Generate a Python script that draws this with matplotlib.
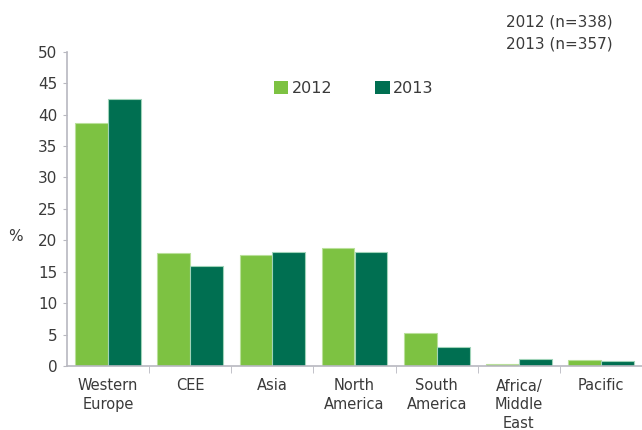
import numpy as np
import matplotlib.pyplot as plt

regions = ["Western\nEurope", "CEE", "Asia", "North\nAmerica", "South\nAmerica",
           "Africa/\nMiddle\nEast", "Pacific"]
share_2012 = [38.7, 18.0, 17.7, 18.8, 5.2, 0.3, 0.9]
share_2013 = [42.5, 15.9, 18.1, 18.1, 3.1, 1.1, 0.75]
sample_notes = ["2012 (n=338)", "2013 (n=357)"]

light_green = "#7dc242"
dark_green = "#006f51"
text_grey = "#3a3a3a"
axis_grey = "#b8b8c0"

plt.rcParams['font.family'] = ['DejaVu Sans']

fig = plt.figure(figsize=(6.42, 4.30), dpi=100)
ax = fig.add_axes([67 / 642, 64 / 430, 575 / 642, 314.3 / 430])

x = np.arange(len(regions))
w = 0.4
ax.bar(x - w / 2, share_2012, width=w, color=light_green,
       edgecolor="#b9e09a", linewidth=0.8, label="2012")
ax.bar(x + w / 2, share_2013, width=w, color=dark_green,
       edgecolor="#9fd3b8", linewidth=0.8, label="2013")

ax.set_ylim(0, 50)
ax.set_xlim(-0.5, -0.5 + 575 / 82.6)
ax.set_yticks(np.arange(0, 51, 5))
ax.tick_params(axis="y", direction="out", length=3, color=axis_grey,
               labelcolor=text_grey, labelsize=11, pad=4)

# category labels centred, tick marks at the boundaries between groups
ax.set_xticks(x)
ax.set_xticklabels(regions, color=text_grey, fontsize=10.5, linespacing=1.3)
ax.tick_params(axis="x", length=0, pad=9)
ax.set_xticks(np.arange(len(regions)) + 0.5, minor=True)
ax.tick_params(axis="x", which="minor", direction="out", length=5, color=axis_grey)

for s in ["top", "right"]:
    ax.spines[s].set_visible(False)
for s in ["left", "bottom"]:
    ax.spines[s].set_color(axis_grey)
    ax.spines[s].set_linewidth(1.2)

fig.text(15 / 642, 1 - 237 / 430, "%", color=text_grey, fontsize=11,
         ha="center", va="center")

leg = ax.legend(loc="upper left", bbox_to_anchor=(266 / 642, 1 - 73 / 430),
                bbox_transform=fig.transFigure, ncol=2, frameon=False,
                fontsize=11.5, handlelength=0.9, handleheight=0.9,
                handletextpad=0.2, columnspacing=2.7, borderpad=0)
for t in leg.get_texts():
    t.set_color(text_grey)
for h in leg.legend_handles:
    h.set_edgecolor("none")

fig.text(613 / 642, 1 - 22 / 430, sample_notes[0], color=text_grey, fontsize=11,
         ha="right", va="center")
fig.text(613 / 642, 1 - 44 / 430, sample_notes[1], color=text_grey, fontsize=11,
         ha="right", va="center")

fig.savefig("out.png", dpi=100)
